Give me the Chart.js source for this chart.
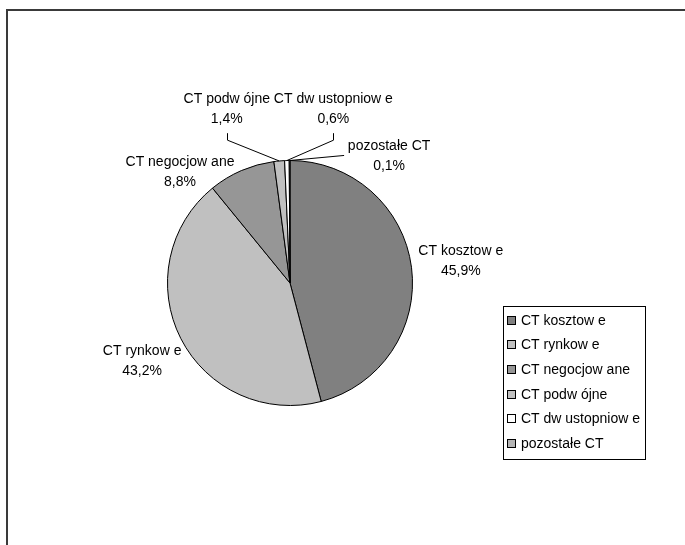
<!DOCTYPE html>
<html>
<head>
<meta charset="utf-8">
<script src="https://cdn.jsdelivr.net/npm/chart.js@4/dist/chart.umd.min.js"></script>
<style>
    html, body { margin: 0; padding: 0; background: #fff; }
    #wrap { position: relative; width: 685px; height: 545px; }
    #frame {
        position: absolute; left: 6px; top: 9px; right: 0; bottom: 0;
        border-left: 2px solid #3a3a3a; border-top: 2px solid #3a3a3a;
        pointer-events: none;
    }
</style>
</head>
<body>
<div id="wrap">
    <canvas id="chart" width="685" height="545"></canvas>
    <div id="frame"></div>
</div>
<script>
// dane
const categories = ['CT kosztow e', 'CT rynkow e', 'CT negocjow ane', 'CT podw ójne', 'CT dw ustopniow e', 'pozostałe CT'];
const shares = [45.9, 43.2, 8.8, 1.4, 0.6, 0.1];
const sliceColors = ['#808080', '#c0c0c0', '#969696', '#c0c0c0', '#ffffff', '#b4b4b4'];

const FONT = '14px "Liberation Sans", Arial, sans-serif';

// polozenie etykiet wzgledem srodka kola (w promieniach)
const labelPlacement = [
    {dx: 1.394, dy: -0.179},
    {dx: -1.207, dy: 0.634},
    {dx: -0.898, dy: -0.905},
    {dx: -0.516, dy: -1.419, leader: 'down'},
    {dx: 0.354, dy: -1.419, leader: 'down'},
    {dx: 0.809, dy: -1.033, leader: 'left'}
];

function pct(v){
    return v.toFixed(1).replace('.', ',') + '%';
}

const pieLabels = {
    id: 'pieLabels',
    afterDatasetsDraw(chart){
        const ctx = chart.ctx;
        const arcs = chart.getDatasetMeta(0).data;
        ctx.save();
        ctx.font = FONT;
        ctx.fillStyle = '#000';
        ctx.strokeStyle = '#000';
        ctx.lineWidth = 1;
        ctx.textAlign = 'center';
        ctx.textBaseline = 'middle';
        arcs.forEach((arc, i) => {
            const p = arc.getProps(['x', 'y', 'startAngle', 'endAngle', 'outerRadius'], true);
            const r = p.outerRadius;
            const lx = p.x + labelPlacement[i].dx * r;
            const ly = p.y + labelPlacement[i].dy * r;
            ctx.fillText(categories[i], lx, ly - 10);
            ctx.fillText(pct(shares[i]), lx, ly + 10);

            const mid = (p.startAngle + p.endAngle) / 2;
            const ex = p.x + Math.cos(mid) * r;
            const ey = p.y + Math.sin(mid) * r;
            if(labelPlacement[i].leader === 'down'){
                ctx.beginPath();
                ctx.moveTo(Math.round(lx) + 0.5, ly + 24);
                ctx.lineTo(Math.round(lx) + 0.5, ly + 31);
                ctx.lineTo(ex, ey);
                ctx.stroke();
            } else if(labelPlacement[i].leader === 'left'){
                ctx.beginPath();
                ctx.moveTo(lx - 45, ly - 1);
                ctx.lineTo(ex, ey);
                ctx.stroke();
            }
        });
        ctx.restore();
    }
};

// legenda w ramce
const boxLegend = {
    id: 'boxLegend',
    afterDraw(chart){
        const ctx = chart.ctx;
        const left = 503.5, top = 306.5, width = 142, height = 153;
        const rowStart = 320.7, rowStep = 24.65;
        ctx.save();
        ctx.strokeStyle = '#000';
        ctx.lineWidth = 1;
        ctx.strokeRect(left, top, width, height);
        ctx.font = FONT;
        ctx.textAlign = 'left';
        ctx.textBaseline = 'middle';
        categories.forEach((name, i) => {
            const y = Math.round(rowStart + i * rowStep);
            ctx.fillStyle = sliceColors[i];
            ctx.fillRect(507.5, y - 4.5, 8, 8);
            ctx.strokeRect(507.5, y - 4.5, 8, 8);
            ctx.fillStyle = '#000';
            ctx.fillText(name, 521, y);
        });
        ctx.restore();
    }
};

const ctx = document.getElementById('chart');

const chart = new Chart(ctx, {
    type: 'pie',
    data: {
        labels: categories,
        datasets: [{
            data: shares,
            backgroundColor: sliceColors,
            borderColor: '#000',
            borderWidth: 1
        }]
    },
    options: {
        responsive: false,
        animation: false,
        events: [],
        layout: {
            padding: {left: 167, right: 272, top: 160, bottom: 139}
        },
        plugins: {
            legend: {display: false},
            tooltip: {enabled: false}
        }
    },
    plugins: [pieLabels, boxLegend]
});
</script>
</body>
</html>
